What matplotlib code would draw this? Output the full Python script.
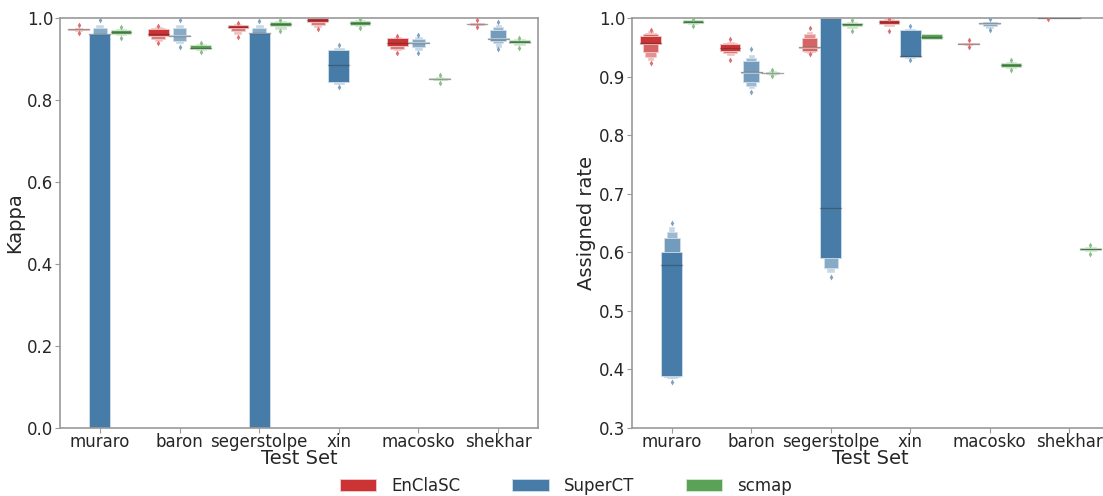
import numpy as np
import matplotlib
matplotlib.use('Agg')
import matplotlib.pyplot as plt
from matplotlib.patches import Patch
from matplotlib.colors import to_rgb

datasets = ['muraro', 'baron', 'segerstolpe', 'xin', 'macosko', 'shekhar']
methods = ['EnClaSC', 'SuperCT', 'scmap']
colors = ['#cb3334', '#477ca8', '#59a257']

# letter-value boxes per dataset, innermost first: (low, high)
# --- Kappa ---
kappa_enclasc_med = [.972, .960, .978, .995, .940, .986]
kappa_enclasc_lv = [[(.9715, .9725), (.970, .974), (.968, .975)],
                    [(.955, .972), (.948, .975), (.944, .977)],
                    [(.975, .982), (.968, .983), (.962, .985)],
                    [(.990, 1.0), (.984, 1.0), (.978, 1.0)],
                    [(.931, .951), (.925, .952), (.921, .953)],
                    [(.9855, .9865), (.984, .988), (.982, .989)]]
kappa_enclasc_fl = [[.963, .982], [.939, .980], [.954, .988], [.972], [.915, .955], [.978, .994]]

kappa_superct_med = [.962, .957, .963, .885, .940, .950]
kappa_superct_lv = [[(0, .962), (0, .975), (0, .984)],
                    [(.955, .958), (.945, .975), (.938, .982)],
                    [(0, .963), (0, .975), (0, .984)],
                    [(.845, .922), (.840, .927)],
                    [(.938, .942), (.930, .948), (.922, .954)],
                    [(.948, .951), (.945, .970), (.938, .978), (.930, .984)]]
kappa_superct_fl = [[.994], [.930, .994], [.993], [.832, .933], [.914, .958], [.924, .990]]

kappa_scmap_med = [.965, .928, .985, .988, .852, .942]
kappa_scmap_lv = [[(.962, .970), (.958, .972)],
                  [(.924, .935), (.922, .937)],
                  [(.980, .990), (.974, .992)],
                  [(.984, .993), (.980, .995)],
                  [(.8515, .8525), (.850, .854), (.848, .856)],
                  [(.938, .946), (.933, .948)]]
kappa_scmap_fl = [[.951, .978], [.917, .940], [.968, .996], [.976, .998], [.841, .862], [.927, .951]]

# --- Assigned rate ---
rate_enclasc_med = [.958, .949, .950, .993, .956, 1.0]
rate_enclasc_lv = [[(.955, .969), (.942, .972), (.934, .975), (.928, .977)],
                   [(.944, .955), (.940, .957), (.936, .959)],
                   [(.948, .951), (.944, .966), (.942, .972), (.940, .976)],
                   [(.990, .996), (.986, .998)],
                   [(.9555, .9565), (.955, .957), (.954, .958)],
                   [(1.0, 1.0)]]
rate_enclasc_fl = [[.924, .980], [.928, .964], [.938, .983], [.978, .999], [.951, .962], [.998]]

rate_superct_med = [.578, .907, .675, .935, .991, 1.0]
rate_superct_lv = [[(.389, .601), (.387, .624), (.386, .635), (.385, .644)],
                   [(.906, .908), (.891, .927), (.884, .932), (.880, .937)],
                   [(.590, 1.0), (.574, 1.0), (.567, 1.0)],
                   [(.934, .980), (.932, .982)],
                   [(.990, .992), (.986, .993), (.983, .994)],
                   [(1.0, 1.0)]]
rate_superct_fl = [[.379, .650], [.873, .947], [.557], [.928, .987], [.979, .999], []]

rate_scmap_med = [.993, .906, .989, .968, .920, .606]
rate_scmap_lv = [[(.991, .996), (.989, .997)],
                 [(.9055, .9065), (.905, .907), (.903, .909)],
                 [(.987, .992), (.983, .993)],
                 [(.964, .973)],
                 [(.917, .924), (.915, .925)],
                 [(.604, .608), (.602, .609)]]
rate_scmap_fl = [[.987, .999], [.901, .912], [.978, .996], [], [.912, .928], [.597, .613]]


def mix(c, t):
    # blend colour c towards white by t
    c = np.array(to_rgb(c))
    return tuple(c * (1 - t) + t)


def boxen(ax, meds, lvs, fls, h):
    col = colors[h]
    w = 0.8 / 3 * 0.98
    for i in range(len(datasets)):
        x = i + (h - 1) * 0.8 / 3
        boxes = lvs[i]
        n = len(boxes)
        for j in range(n - 1, -1, -1):
            lo, hi = boxes[j]
            frac = (n - j) / n
            t = 0.7 * j / (n - 1) if n > 1 else 0
            ax.bar(x, hi - lo, bottom=lo, width=w * frac, color=mix(col, t),
                   edgecolor=mix(col, 0.75), linewidth=0.6, zorder=2)
        ax.plot([x - w / 2, x + w / 2], [meds[i], meds[i]], color='0.15',
                alpha=0.35, lw=1, zorder=3)
        if fls[i]:
            ax.scatter([x] * len(fls[i]), fls[i], marker='d', s=9,
                       color=mix(col, 0.3), zorder=3, linewidths=0)


fig = plt.figure(figsize=(11.03, 4.96), dpi=100)
ax1 = fig.add_axes([60 / 1103, 68 / 496, 478 / 1103, 410 / 496])
ax2 = fig.add_axes([632 / 1103, 68 / 496, 477 / 1103, 410 / 496])

boxen(ax1, kappa_enclasc_med, kappa_enclasc_lv, kappa_enclasc_fl, 0)
boxen(ax1, kappa_superct_med, kappa_superct_lv, kappa_superct_fl, 1)
boxen(ax1, kappa_scmap_med, kappa_scmap_lv, kappa_scmap_fl, 2)
boxen(ax2, rate_enclasc_med, rate_enclasc_lv, rate_enclasc_fl, 0)
boxen(ax2, rate_superct_med, rate_superct_lv, rate_superct_fl, 1)
boxen(ax2, rate_scmap_med, rate_scmap_lv, rate_scmap_fl, 2)

for ax, ylab, lim, ticks in [(ax1, 'Kappa', (0, 1.0), np.arange(0, 1.01, 0.2)),
                             (ax2, 'Assigned rate', (0.3, 1.0), np.arange(0.3, 1.01, 0.1))]:
    ax.set_xlim(-0.5, 5.5)
    ax.set_ylim(*lim)
    ax.set_yticks(ticks)
    ax.set_yticklabels(['%.1f' % t for t in ticks])
    ax.set_xticks(range(len(datasets)))
    ax.set_xticklabels(datasets)
    ax.set_xlabel('Test Set', fontsize=14, color='0.15', labelpad=-1)
    ax.set_ylabel(ylab, fontsize=14, color='0.15', labelpad=2)
    ax.tick_params(labelsize=12, colors='0.15', length=3.5, color='0.6', pad=1.5)
    ax.tick_params(axis='x', pad=0)
    for s in ax.spines.values():
        s.set_color('0.6')
        s.set_linewidth(1.2)

handles = [Patch(facecolor=c, edgecolor=mix(c, 0.75), linewidth=0.6) for c in colors]
fig.legend(handles, methods, loc='center', bbox_to_anchor=(0.513, 0.02), ncol=3,
           frameon=False, fontsize=12, columnspacing=3.1, handlelength=2.2,
           handletextpad=0.9, labelcolor='0.15')

fig.savefig('out.png', dpi=100)
